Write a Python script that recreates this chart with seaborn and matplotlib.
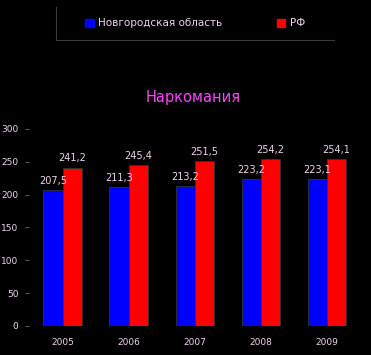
import pandas as pd
import numpy as np
import matplotlib.pyplot as plt
import seaborn as sns

years = ["2005", "2006", "2007", "2008", "2009"]
novgorod = [207.5, 211.3, 213.2, 223.2, 223.1]
rf = [241.2, 245.4, 251.5, 254.2, 254.1]
series_names = ["Новгородская область", "РФ"]
title = "Наркомания"

df = pd.DataFrame({
    "year": years * 2,
    "value": novgorod + rf,
    "series": [series_names[0]] * len(years) + [series_names[1]] * len(years),
})

sns.set_style("dark", {"axes.facecolor": "black", "figure.facecolor": "black"})
plt.rcParams['font.family'] = ['DejaVu Sans']

txt = "#f2d0f2"

fig = plt.figure(figsize=(3.71, 3.55), dpi=100)
fig.patch.set_facecolor("black")

ax = fig.add_axes([0.0795, 0.0817, 0.8905, 0.555])
ax.set_facecolor("black")
sns.barplot(data=df, x="year", y="value", hue="series",
            palette=["#0000ff", "#ff0000"], width=0.58, saturation=1,
            edgecolor="#333333", linewidth=0.6, ax=ax, legend=False)

for cont in ax.containers:
    labels = [f"{b.get_height():.1f}".replace(".", ",") for b in cont]
    ax.bar_label(cont, labels=labels, padding=3, color=txt, fontsize=7)

ax.set_ylim(0, 300)
ax.set_xlim(-0.5, 4.5)
ax.set_yticks([0, 50, 100, 150, 200, 250, 300])
ax.set_xlabel("")
ax.set_ylabel("")
ax.grid(False)
for s in ax.spines.values():
    s.set_visible(False)
ax.tick_params(axis="y", colors="#555555", length=3, width=0.8, labelcolor=txt,
               labelsize=6.5, pad=5, left=True)
ax.tick_params(axis="x", colors="#555555", length=0, labelcolor=txt,
               labelsize=6.5, pad=9)

fig.text(0.52, 0.724, title, color="#ff44ff", fontsize=10.5, ha="center", va="center")

# legend box
lax = fig.add_axes([56 / 371, 1 - 40 / 355, 278 / 371, 33 / 355])
lax.set_facecolor("black")
lax.set_xticks([])
lax.set_yticks([])
for k, s in lax.spines.items():
    s.set_visible(k in ("left", "bottom"))
    s.set_color("#3a3a3a")
handles = [plt.Rectangle((0, 0), 1, 1, color=c) for c in ["#0000ff", "#ff0000"]]
lax.legend(handles, series_names, loc="center", ncol=2, frameon=False,
           fontsize=7.5, labelcolor=txt, handlelength=0.85, handleheight=0.85,
           handletextpad=0.4, columnspacing=5.2)

fig.savefig("out.png", dpi=100, facecolor="black")
